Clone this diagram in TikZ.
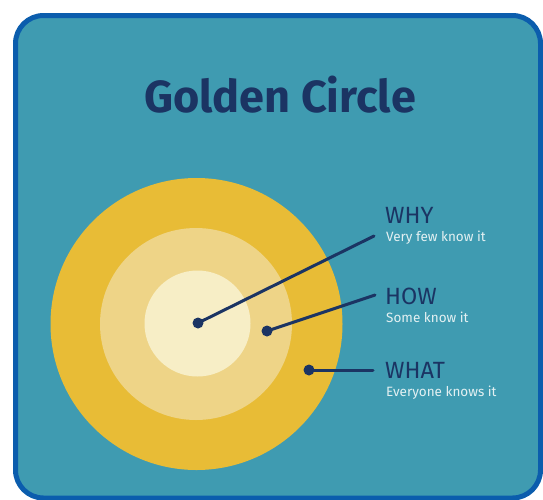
\documentclass[tikz,border=0pt]{standalone}
\usepackage{fontspec}
\setmainfont{Fira Sans}
\usetikzlibrary{positioning}
\definecolor{bgteal}{HTML}{3F9BB1}
\definecolor{frameblue}{HTML}{0B5DAD}
\definecolor{navy}{HTML}{1B3463}
\definecolor{goldA}{HTML}{E8BC36}
\definecolor{goldB}{HTML}{EED487}
\definecolor{goldC}{HTML}{F7EEC6}
\definecolor{paletxt}{HTML}{E3F0F2}
\begin{document}
\begin{tikzpicture}[x=1pt,y=-1pt,line join=round,line cap=round]
	\tikzset{ring/.style={circle,inner sep=0pt,minimum size=#1},
		dot/.style={circle,fill=navy,inner sep=0pt,minimum size=11pt},
		head/.style={anchor=base west,text=navy,inner sep=0pt,font=\fontsize{23.5}{24}\selectfont},
		sub/.style={anchor=base west,text=paletxt,inner sep=0pt,font=\fontsize{13.5}{14}\selectfont},
		pointer/.style={draw=navy,line width=3pt}}
	\useasboundingbox (0,0) rectangle (543,499);
	% Nền trắng và khung bo góc
	\fill[white] (0,0) rectangle (543,499);
	\draw[frameblue,fill=bgteal,line width=5pt,rounded corners=28pt] (15.5,15.5) rectangle (540.5,498);
	% Tiêu đề
	\node[text=navy,font=\fontsize{45}{45}\selectfont\bfseries] (title) at (280,95) {Golden Circle};
	% Ba vòng tròn lồng nhau
	\node[ring=292pt,fill=goldA] (what) at (196.5,324) {};
	\node[ring=192pt,fill=goldB] (how) at (196,324) {};
	\node[ring=106pt,fill=goldC] (why) at (197.5,323.5) {};
	% Các chấm và nhãn
	\foreach \n/\px/\py/\qx/\qy/\y/\lab/\txt in {
		whyd/198/323/374/236/223/WHY/Very few know it,
		howd/267/331/375/295/304/HOW/Some know it,
		whatd/309/370/373/370/378/WHAT/Everyone knows it
	}{
		\node[dot] (\n) at (\px,\py) {};
		\coordinate (\n-end) at (\qx,\qy);
		\path[pointer] (\n.center) -- (\n-end);
		\node[head] (\n-h) at (385,\y) {\lab};
		\node[sub] (\n-s) at (386,\y+18) {\txt};
	}
\end{tikzpicture}
\end{document}
